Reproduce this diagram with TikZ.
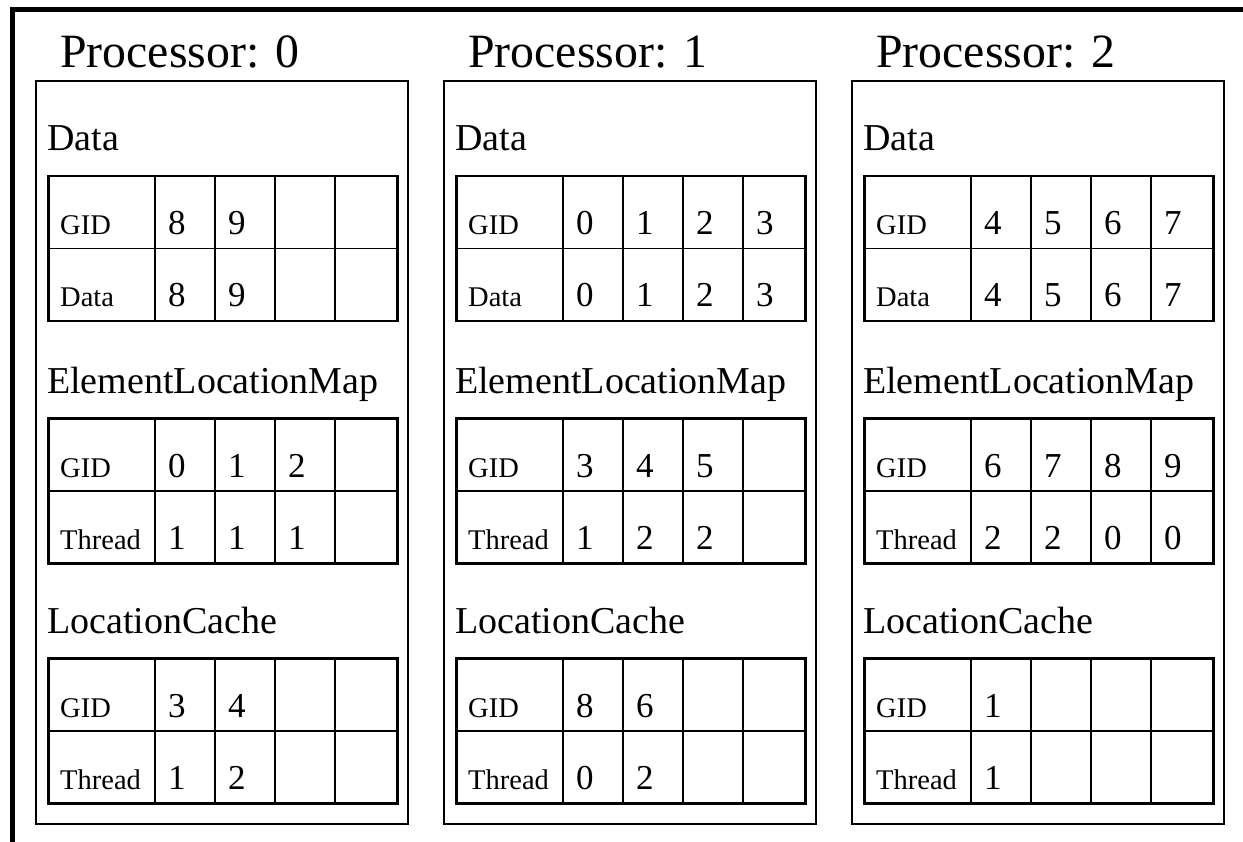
\documentclass[tikz,border=0pt]{standalone}
\usepackage{fontspec}
\setmainfont{Liberation Serif}
\usetikzlibrary{positioning}

\tikzset{
  procbox/.style={draw, line width=2pt, minimum width=372pt, minimum height=743pt, anchor=north west, inner sep=0pt},
  tablebox/.style={draw, line width=2.5pt, minimum width=349pt, minimum height=145pt, anchor=north west, inner sep=0pt},
  gridline/.style={line width=1.2pt},
  proctitle/.style={anchor=base west, inner sep=0pt, font=\fontsize{47.8}{48}\selectfont},
  seclabel/.style={anchor=base west, inner sep=0pt, font=\fontsize{38}{38}\selectfont},
  rowname/.style={anchor=base west, inner sep=0pt, font=\fontsize{28.5}{28.5}\selectfont},
  cellval/.style={anchor=base west, inner sep=0pt, font=\fontsize{35}{35}\selectfont},
}

% #1 name, #2 left x, #3 top y, #4 heading, #5/#6 row names, #7/#8 values
\newcommand{\memtable}[8]{%
  \node[seclabel] (#1lbl) at (#2, #3-24) {#4};
  \node[tablebox] (#1) at (#2, #3) {};
  \draw[gridline, line width=1.5pt] (#1.west) -- (#1.east);
  \draw[gridline, line width=2pt] ([xshift=108pt]#1.north west) -- ([xshift=108pt]#1.south west);
  \foreach \c in {168,228,288}
    \draw[gridline] ([xshift=\c pt]#1.north west) -- ([xshift=\c pt]#1.south west);
  \node[rowname] (#1ra) at (#2+13, #3+60) {#5};
  \node[rowname] (#1rb) at (#2+13, #3+132) {#6};
  \foreach \v [count=\i] in {#7}
    \node[cellval] (#1a\i) at (#2+61+60*\i, #3+60) {\v};
  \foreach \v [count=\i] in {#8}
    \node[cellval] (#1b\i) at (#2+61+60*\i, #3+132) {\v};
}

\begin{document}
\begin{tikzpicture}[x=1pt, y=-1pt]
  \useasboundingbox (0,0) rectangle (1243,842);

  % outer frame, only top and left
  \draw[line width=5pt] (12.5,842) -- (12.5,10) -- (1243,10);

  % processor boxes
  \node[procbox] (p0) at (35,80) {};
  \node[procbox] (p1) [right=34pt of p0] {};
  \node[procbox] (p2) [right=34pt of p1] {};

  \node[proctitle] (p0title) at (60,68) {Processor: 0};
  \node[proctitle] (p1title) at (468,68) {Processor: 1};
  \node[proctitle] (p2title) at (876,68) {Processor: 2};

  % processor 0
  \memtable{p0data}{47}{175}{Data}{GID}{Data}{8,9}{8,9}
  \memtable{p0elm}{47}{417}{ElementLocationMap}{GID}{Thread}{0,1,2}{1,1,1}
  \memtable{p0lc}{47}{657}{LocationCache}{GID}{Thread}{3,4}{1,2}

  % processor 1
  \memtable{p1data}{455}{175}{Data}{GID}{Data}{0,1,2,3}{0,1,2,3}
  \memtable{p1elm}{455}{417}{ElementLocationMap}{GID}{Thread}{3,4,5}{1,2,2}
  \memtable{p1lc}{455}{657}{LocationCache}{GID}{Thread}{8,6}{0,2}

  % processor 2
  \memtable{p2data}{863}{175}{Data}{GID}{Data}{4,5,6,7}{4,5,6,7}
  \memtable{p2elm}{863}{417}{ElementLocationMap}{GID}{Thread}{6,7,8,9}{2,2,0,0}
  \memtable{p2lc}{863}{657}{LocationCache}{GID}{Thread}{1}{1}
\end{tikzpicture}
\end{document}
